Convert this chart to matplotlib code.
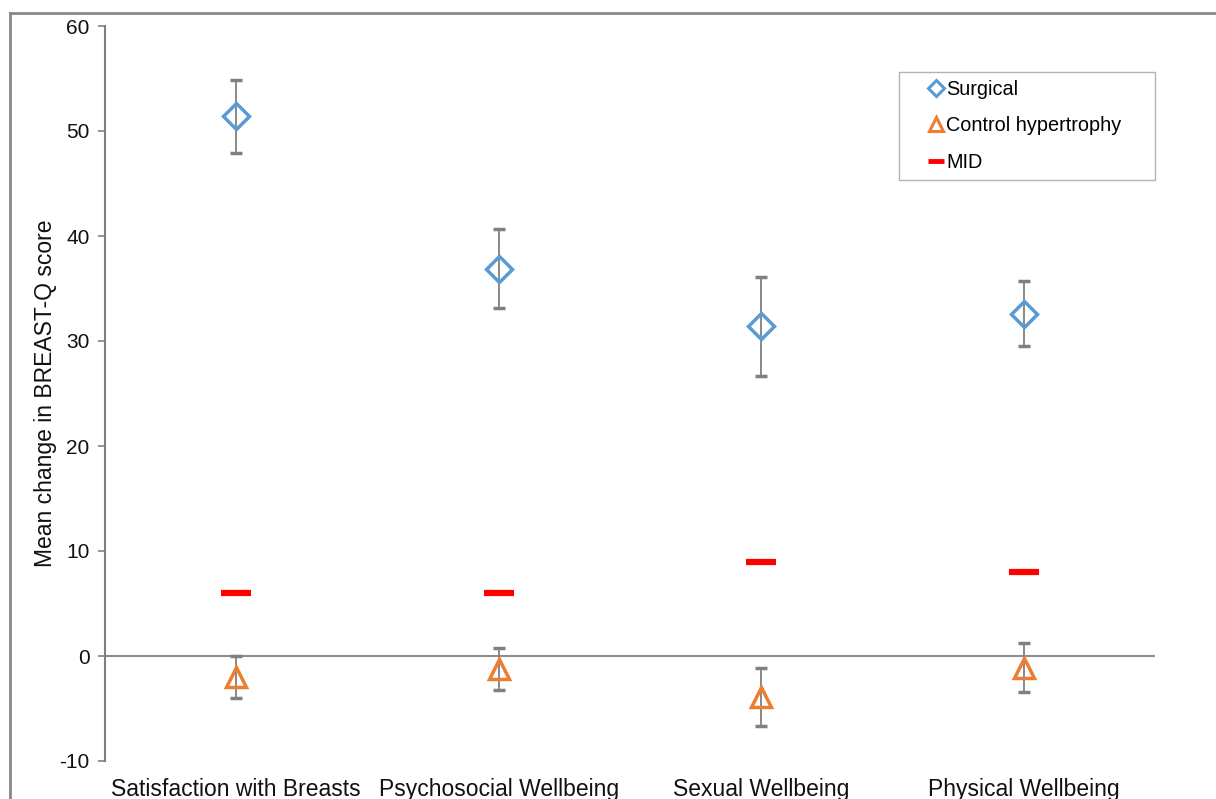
import matplotlib.pyplot as plt
from matplotlib.lines import Line2D

plt.rcParams['font.family'] = ['Liberation Sans', 'DejaVu Sans']
plt.rcParams['axes.unicode_minus'] = False

# Mean change in BREAST-Q score per domain
categories = ['Satisfaction with Breasts', 'Psychosocial Wellbeing',
              'Sexual Wellbeing', 'Physical Wellbeing']
surgical = [51.4, 36.9, 31.4, 32.6]
surgical_err = [3.5, 3.8, 4.7, 3.1]
control = [-2.0, -1.2, -3.9, -1.1]
control_err = [2.0, 2.0, 2.8, 2.3]
mid = [6, 6, 9, 8]

W, H = 1216, 799
fig = plt.figure(figsize=(W / 100, H / 100), dpi=100)
ax = fig.add_axes([105 / W, 1 - 761 / H, 1050 / W, 735 / H])

x = list(range(len(categories)))
grey = '#808080'
blue = '#5b9bd5'
orange = '#ed7d31'

ax.errorbar(x, surgical, yerr=surgical_err, fmt='D', ms=13, mfc='none',
            mec=blue, mew=2.5, ecolor=grey, elinewidth=1.3, capsize=4,
            capthick=1.3, zorder=3)
ax.errorbar(x, control, yerr=control_err, fmt='^', ms=15, mfc='none',
            mec=orange, mew=2.5, ecolor=grey, elinewidth=1.3, capsize=4,
            capthick=1.3, zorder=3)
ax.plot(x, mid, ls='none', marker='_', ms=22, mew=4.5, color='#ff0000',
        zorder=3)

ax.axhline(0, color='#8c8c8c', lw=1.5, zorder=1)

ax.set_xlim(-0.5, 3.5)
ax.set_ylim(-10, 60)
ax.set_yticks(range(-10, 61, 10))
ax.set_xticks(x)
ax.set_xticklabels(categories, fontsize=16.5, color='#111111')
ax.tick_params(axis='x', length=0, pad=12)
ax.tick_params(axis='y', direction='out', length=5, width=1.2, color=grey,
               labelsize=15, pad=6, labelcolor='#111111')
for side in ['top', 'right', 'bottom']:
    ax.spines[side].set_visible(False)
ax.spines['left'].set_color(grey)
ax.spines['left'].set_linewidth(1.5)
ax.set_ylabel('Mean change in BREAST-Q score', fontsize=16.5, labelpad=2,
              color='#111111')

handles = [
    Line2D([], [], ls='none', marker='D', ms=8, mfc='none', mec=blue, mew=2.2),
    Line2D([], [], ls='none', marker='^', ms=10, mfc='none', mec=orange, mew=2.2),
    Line2D([], [], ls='none', marker='_', ms=12, mew=3.5, color='#ff0000'),
]
labels = ['Surgical', 'Control hypertrophy', 'MID']
leg = ax.legend(handles, labels, loc='upper left', mode='expand',
                bbox_to_anchor=(794 / 1050, 1 - 46 / 735, 256 / 1050, 0),
                fontsize=14.3, frameon=True, fancybox=False,
                edgecolor='#a0a0a0', handlelength=2.9, handletextpad=-0.95,
                labelspacing=0.86, borderpad=0.42, borderaxespad=0)
leg.get_frame().set_linewidth(1.0)

# outer chart border
fig.add_artist(Line2D([10 / W, 1], [1 - 13 / H, 1 - 13 / H], color='#888888', lw=2))
fig.add_artist(Line2D([10 / W, 10 / W], [0, 1 - 13 / H], color='#888888', lw=2))

fig.savefig('out.png', dpi=100)
